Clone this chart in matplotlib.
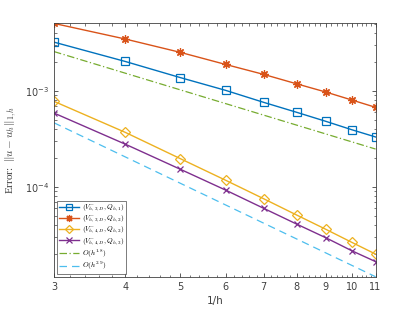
import matplotlib
matplotlib.use("agg")
import matplotlib.pyplot as plt
from matplotlib import rcParams
from matplotlib.ticker import FixedLocator, MultipleLocator, NullFormatter, LogLocator, LogFormatterMathtext

rcParams['mathtext.fontset'] = 'cm'
rcParams['font.family'] = "DejaVu Sans"

# 1/h values
inv_h = [3, 4, 5, 6, 7, 8, 9, 10, 11]

# errors
err_31 = [3.21e-3, 2.02e-3, 1.37e-3, 1.01e-3, 7.57e-4, 5.96e-4, 4.80e-4, 3.92e-4, 3.30e-4]
err_32 = [5.03e-3, 3.46e-3, 2.51e-3, 1.88e-3, 1.48e-3, 1.18e-3, 9.69e-4, 8.00e-4, 6.72e-4]
err_42 = [7.76e-4, 3.69e-4, 1.96e-4, 1.17e-4, 7.50e-5, 5.07e-5, 3.60e-5, 2.63e-5, 1.99e-5]
err_43 = [5.86e-4, 2.78e-4, 1.52e-4, 9.24e-5, 5.96e-5, 4.08e-5, 2.94e-5, 2.15e-5, 1.66e-5]

# reference slopes (straight lines in log-log, endpoints only)
ref_x = [3, 11]
ref_18 = [2.56e-3, 2.47e-4]
ref_29 = [4.64e-4, 1.155e-5]

labels = [r'$(V^{-}_{h,3,D}, Q_{h,1})$',
          r'$(V^{-}_{h,3,D}, Q_{h,2})$',
          r'$(V^{-}_{h,4,D}, Q_{h,2})$',
          r'$(V^{-}_{h,4,D}, Q_{h,3})$',
          r'$O(h^{1.8})$',
          r'$O(h^{2.9})$']

fig = plt.figure(figsize=(4.15, 3.12), dpi=100)
ax = fig.add_axes([0.130, 0.113, 0.775, 0.812])

ax.plot(inv_h, err_31, color='#0072BD', lw=1.0, marker='s', ms=5.5, mfc='none', mew=0.9, label=labels[0])
ax.plot(inv_h, err_32, color='#D95319', lw=1.0, marker=(8, 2, 0), ms=6, mew=0.9, label=labels[1])
ax.plot(inv_h, err_42, color='#EDB120', lw=1.0, marker='D', ms=5, mfc='none', mew=0.9, label=labels[2])
ax.plot(inv_h, err_43, color='#7E2F8E', lw=1.0, marker='x', ms=4.5, mew=0.9, label=labels[3])
ax.plot(ref_x, ref_18, color='#77AC30', lw=0.9, ls=(0, (6, 2, 1, 2)), label=labels[4])
ax.plot(ref_x, ref_29, color='#4DBEEE', lw=0.9, ls=(0, (6, 4)), label=labels[5])

ax.set_xscale('log')
ax.set_yscale('log')
ax.set_xlim(3, 11)
ax.set_ylim(1.155e-5, 5.03e-3)

ax.xaxis.set_major_locator(FixedLocator(inv_h))
ax.set_xticklabels([str(v) for v in inv_h])
ax.xaxis.set_minor_locator(MultipleLocator(0.2))
ax.xaxis.set_minor_formatter(NullFormatter())
ax.yaxis.set_major_locator(LogLocator(base=10, numticks=10))
ax.yaxis.set_major_formatter(LogFormatterMathtext())
ax.yaxis.set_minor_locator(LogLocator(base=10, subs=range(2, 10), numticks=20))
ax.yaxis.set_minor_formatter(NullFormatter())

ax.tick_params(which='both', direction='in', top=True, right=True, colors='0.25', labelsize=7)
ax.tick_params(which='major', length=3, width=0.6)
ax.tick_params(which='minor', length=1.8, width=0.5)
for s in ax.spines.values():
    s.set_color('0.25')
    s.set_linewidth(0.6)

ax.set_xlabel('1/h', fontsize=7.5, color='0.25', labelpad=3)
ax.set_ylabel(r'Error:  $\|u-u_h\|_{1,h}$', fontsize=8, family='Liberation Serif', color='0.25', labelpad=4)

leg = ax.legend(loc='lower left', fontsize=5.2, frameon=True, fancybox=False,
                edgecolor='0.25', handlelength=2.8, borderpad=0.25, labelspacing=0.0,
                handletextpad=0.4, borderaxespad=0.4, markerscale=0.85)
leg.get_frame().set_linewidth(0.6)

plt.savefig('out.png', dpi=100)
